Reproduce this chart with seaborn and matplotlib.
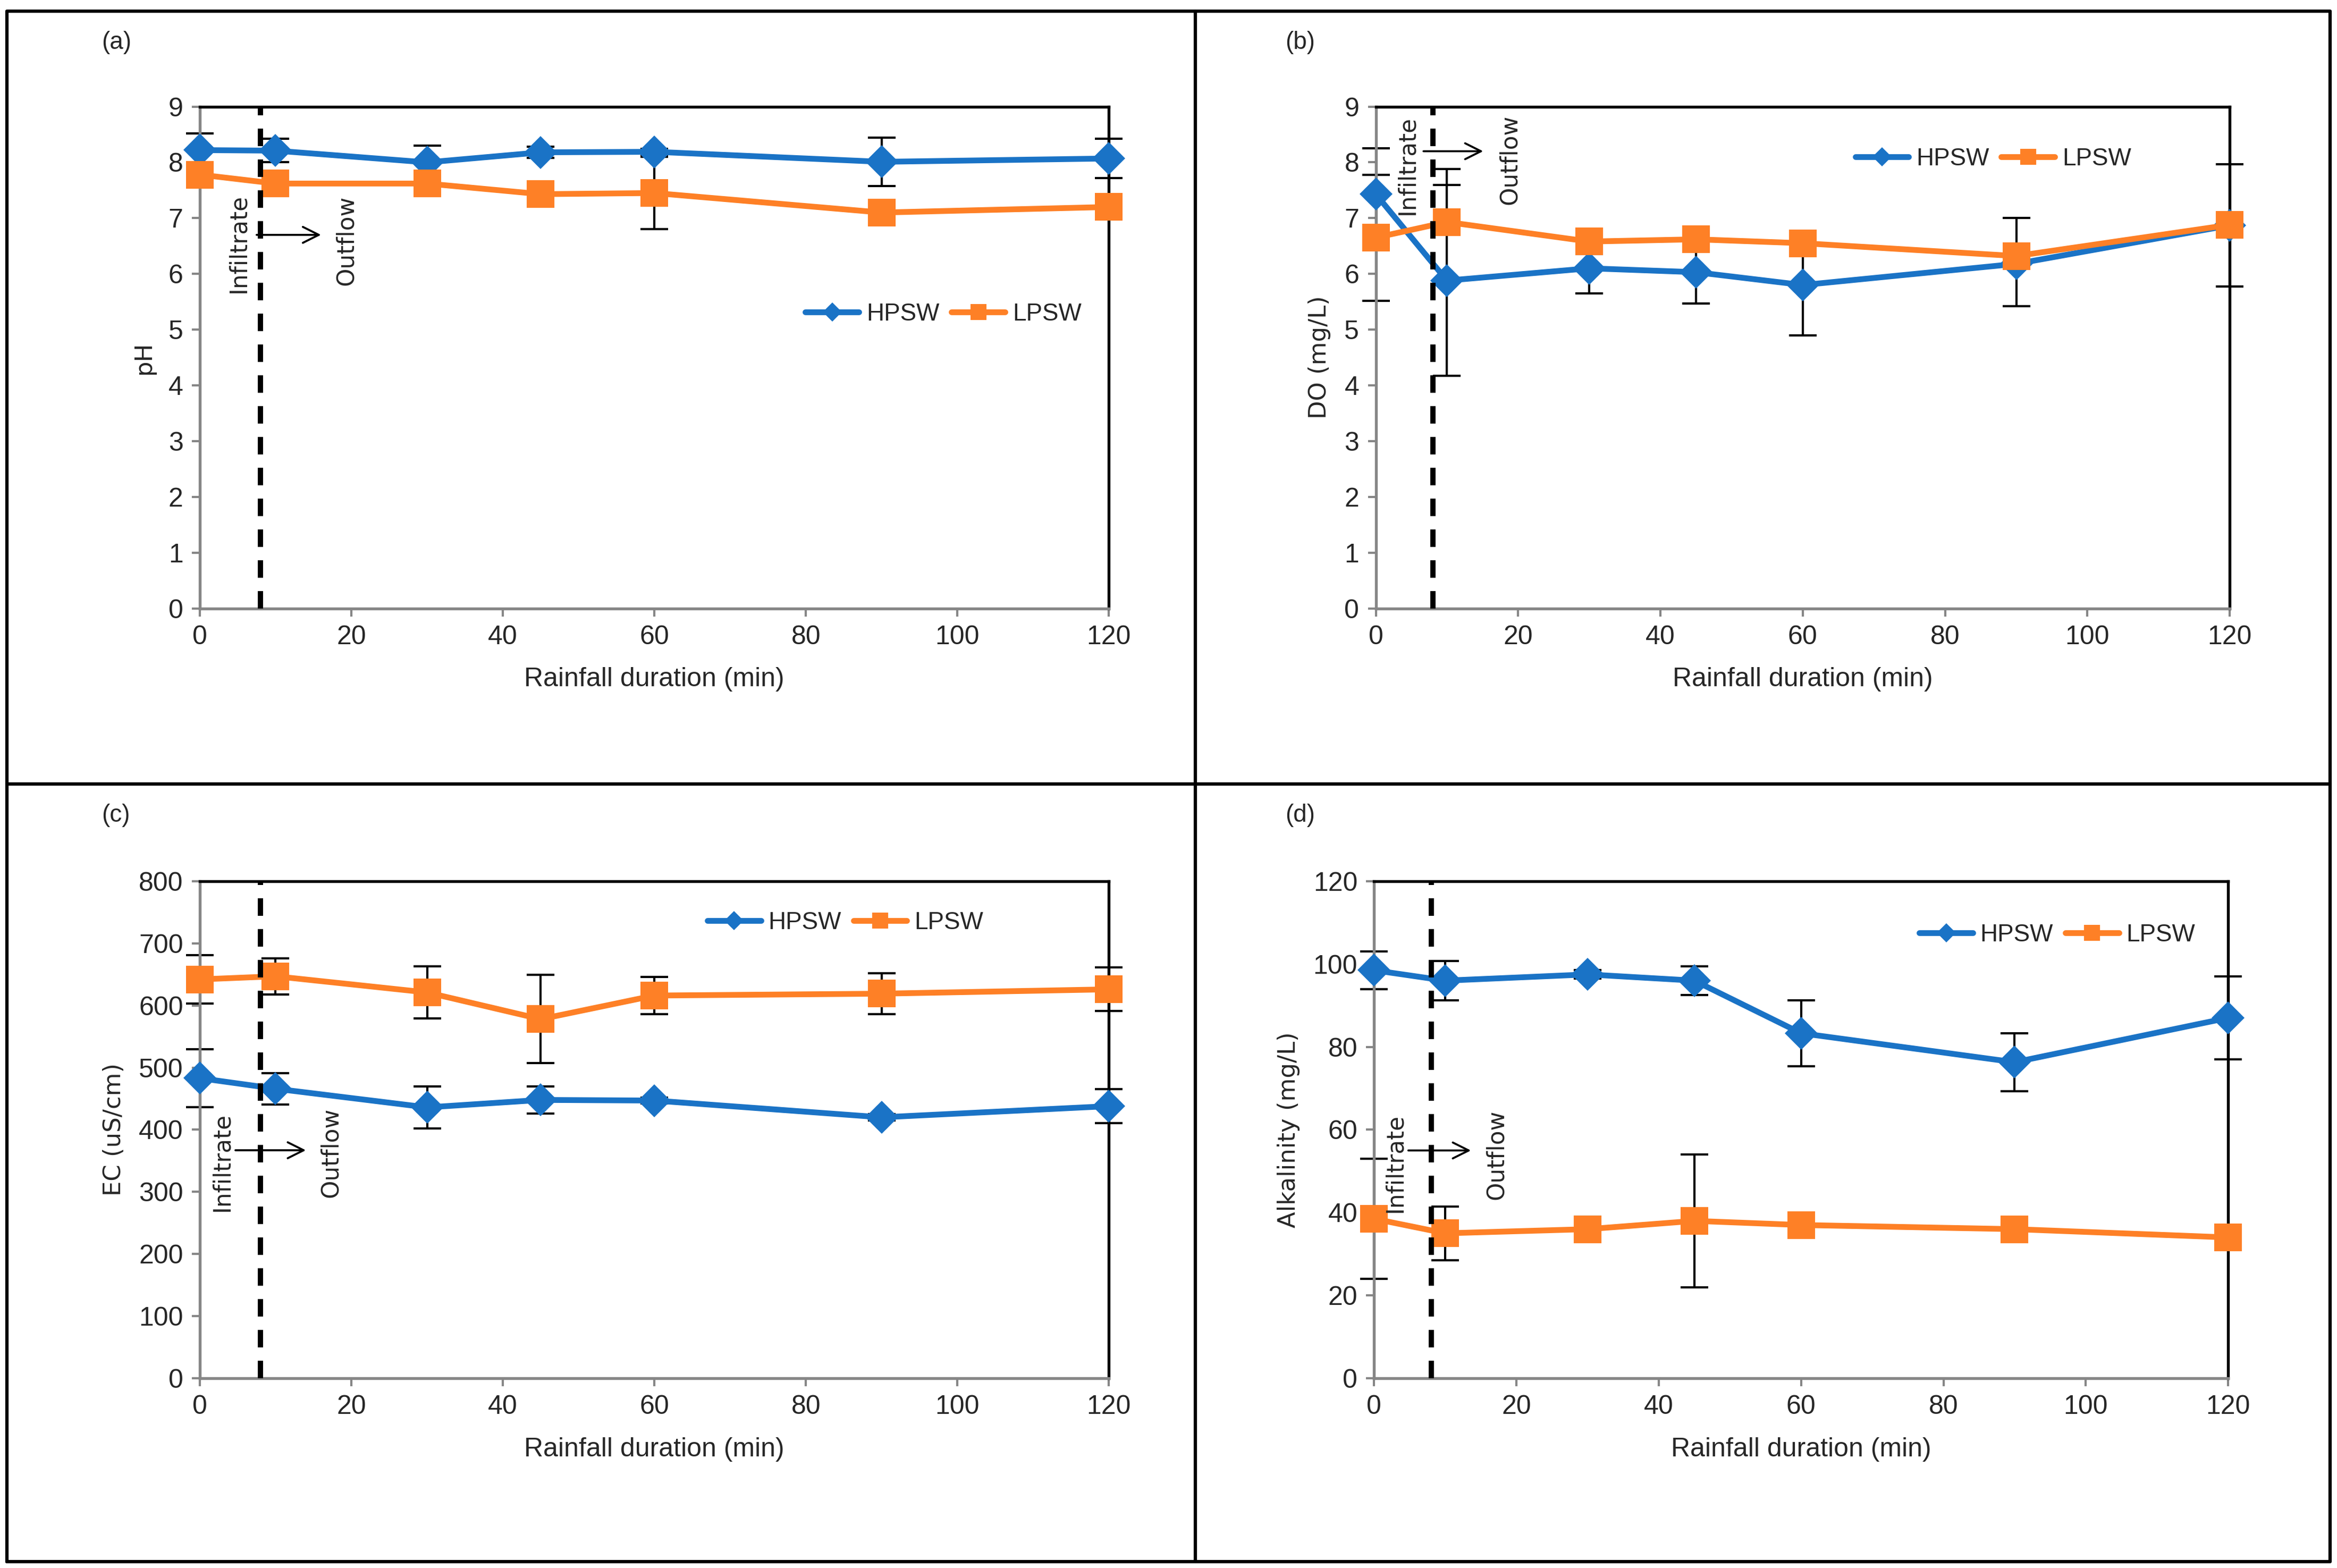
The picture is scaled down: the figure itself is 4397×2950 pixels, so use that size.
import numpy as np
import pandas as pd
import matplotlib.pyplot as plt
import seaborn as sns
from matplotlib.lines import Line2D

# rainfall duration (min)
time_min = [0, 10, 30, 45, 60, 90, 120]
series_names = ["HPSW", "LPSW"]

# (a) pH  (error = [lower, upper])
ph_hpsw = [8.22, 8.21, 8.00, 8.18, 8.19, 8.01, 8.07]
ph_hpsw_err = [[0.30, 0.21, 0.30, 0.10, 0.05, 0.43, 0.35],
               [0.30, 0.21, 0.30, 0.10, 0.05, 0.43, 0.35]]
ph_lpsw = [7.78, 7.62, 7.62, 7.43, 7.45, 7.10, 7.20]
ph_lpsw_err = [[0.10, 0.05, 0.05, 0.05, 0.65, 0.05, 0.05],
               [0.10, 0.05, 0.05, 0.05, 0.65, 0.05, 0.05]]

# (b) DO
do_hpsw = [7.43, 5.88, 6.10, 6.03, 5.80, 6.18, 6.87]
do_hpsw_err = [[0.82, 1.71, 0.45, 0.56, 0.90, 0.76, 1.10],
               [0.82, 1.71, 0.45, 0.56, 0.90, 0.10, 1.10]]
do_lpsw = [6.65, 6.93, 6.58, 6.62, 6.55, 6.32, 6.88]
do_lpsw_err = [[1.13, 0.10, 0.22, 0.10, 0.10, 0.10, 0.10],
               [1.13, 0.95, 0.22, 0.10, 0.10, 0.68, 0.10]]

# (c) EC
ec_hpsw = [483, 466, 436, 448, 447, 420, 438]
ec_hpsw_err = [[47, 25, 34, 22, 5, 5, 27], [47, 25, 34, 22, 5, 5, 27]]
ec_lpsw = [642, 647, 621, 578, 616, 619, 626]
ec_lpsw_err = [[39, 29, 42, 71, 30, 33, 35], [39, 29, 42, 71, 30, 33, 35]]

# (d) Alkalinity
alk_hpsw = [98.5, 96.0, 97.5, 96.0, 83.3, 76.3, 87.0]
alk_hpsw_err = [[4.5, 4.7, 1.0, 3.5, 8.0, 7.0, 10.0], [4.5, 4.7, 1.0, 3.5, 8.0, 7.0, 10.0]]
alk_lpsw = [38.5, 35.0, 36.0, 38.0, 37.0, 36.0, 34.0]
alk_lpsw_err = [[14.5, 6.5, 3.0, 16.0, 1.0, 1.0, 1.0], [14.5, 6.5, 3.0, 16.0, 1.0, 1.0, 1.0]]

colors = {"HPSW": "#1a73c6", "LPSW": "#fe8026"}
markers = {"HPSW": "D", "LPSW": "s"}

sns.set_style("white")
plt.rcParams["font.family"] = ["Liberation Sans", "DejaVu Sans"]

fig = plt.figure(figsize=(4397 / 300, 2950 / 300), dpi=300)

panels = [
    dict(tag="(a)", ylabel="pH", h=ph_hpsw, he=ph_hpsw_err, l=ph_lpsw, le=ph_lpsw_err,
         ylim=(0, 9), ystep=1, rect=[0.0855, 0.612, 0.389, 0.320],
         leg=(0.818, 0.586), inf=(5.1, 6.55), arr=(7.5, 16, 6.7), out=(19.3, 6.6)),
    dict(tag="(b)", ylabel="DO (mg/L)", h=do_hpsw, he=do_hpsw_err, l=do_lpsw, le=do_lpsw_err,
         ylim=(0, 9), ystep=1, rect=[0.5887, 0.612, 0.3654, 0.320],
         leg=(0.723, 0.896), inf=(4.4, 7.95), arr=(6.7, 15.1, 8.2), out=(18.8, 8.05)),
    dict(tag="(c)", ylabel="EC (uS/cm)", h=ec_hpsw, he=ec_hpsw_err, l=ec_lpsw, le=ec_lpsw_err,
         ylim=(0, 800), ystep=100, rect=[0.0855, 0.121, 0.389, 0.317],
         leg=(0.71, 0.916), inf=(2.9, 348), arr=(4.7, 14, 367), out=(17.3, 363)),
    dict(tag="(d)", ylabel="Alkalinity (mg/L)", h=alk_hpsw, he=alk_hpsw_err, l=alk_lpsw, le=alk_lpsw_err,
         ylim=(0, 120), ystep=20, rect=[0.588, 0.121, 0.3654, 0.317],
         leg=(0.80, 0.892), inf=(2.9, 52), arr=(4.8, 13.6, 55), out=(17.2, 54)),
]

tag_pos = {"(a)": (0.0434, 0.973), "(b)": (0.550, 0.973),
           "(c)": (0.0434, 0.480), "(d)": (0.550, 0.480)}

for p in panels:
    ax = fig.add_axes(p["rect"])
    df = pd.DataFrame({
        "time": time_min * 2,
        "value": p["h"] + p["l"],
        "series": ["HPSW"] * len(time_min) + ["LPSW"] * len(time_min),
    })
    # error bars behind the lines
    for name, vals, errs in [("HPSW", p["h"], p["he"]), ("LPSW", p["l"], p["le"])]:
        eb = ax.errorbar(time_min, vals, yerr=np.array(errs), fmt="none", ecolor="black",
                         elinewidth=1.0, capsize=5.5, capthick=1.0, zorder=2)
        for art in eb.get_children():
            art.set_clip_on(False)
    sns.lineplot(data=df, x="time", y="value", hue="series", style="series",
                 palette=colors, markers=markers, dashes=False, linewidth=2.6,
                 markeredgewidth=0, ax=ax, zorder=3, legend=False)
    for ln in ax.lines:
        ln.set_clip_on(False)
        if ln.get_marker() == "D":
            ln.set_markersize(10.5)
        else:
            ln.set_markersize(12.5)

    ax.set_xlim(0, 120)
    ax.set_ylim(*p["ylim"])
    ax.set_xticks(np.arange(0, 121, 20))
    ax.set_yticks(np.arange(p["ylim"][0], p["ylim"][1] + p["ystep"] / 2, p["ystep"]))
    ax.tick_params(axis="both", direction="out", length=3.5, width=1.0, color="#868686",
                   labelsize=12, pad=4, left=True, bottom=True)
    for side in ["top", "right"]:
        ax.spines[side].set_color("black")
        ax.spines[side].set_linewidth(1.3)
    for side in ["left", "bottom"]:
        ax.spines[side].set_color("#868686")
        ax.spines[side].set_linewidth(1.3)
    ax.set_xlabel("Rainfall duration (min)", fontsize=12, labelpad=8)
    ax.set_ylabel(p["ylabel"], fontsize=10.8, family="DejaVu Sans", labelpad=6)

    # infiltrate / outflow divider
    ax.axvline(8, color="black", lw=2.4, linestyle=(0, (3.3, 2.5)), zorder=4)
    ax.text(p["inf"][0], p["inf"][1], "Infiltrate", rotation=90, ha="center", va="center",
            fontsize=10.5, family="DejaVu Sans")
    ax.text(p["out"][0], p["out"][1], "Outflow", rotation=90, ha="center", va="center",
            fontsize=10.5, family="DejaVu Sans")
    ax.annotate("", xy=(p["arr"][1], p["arr"][2]), xytext=(p["arr"][0], p["arr"][2]),
                arrowprops=dict(arrowstyle="->", color="black", lw=0.9,
                                mutation_scale=18, shrinkA=0, shrinkB=0))

    handles = [Line2D([], [], color=colors[n], marker=markers[n], lw=2.6,
                      markersize=6 if n == "HPSW" else 7, markeredgewidth=0)
               for n in series_names]
    ax.legend(handles, series_names, loc="center", bbox_to_anchor=p["leg"], ncol=2,
              frameon=False, fontsize=11, handlelength=2.2, handletextpad=0.3,
              columnspacing=0.5)

    fig.text(tag_pos[p["tag"]][0], tag_pos[p["tag"]][1], p["tag"], fontsize=11,
             ha="left", va="center")

# outer frame and quadrant dividers
frame_kw = dict(color="black", lw=1.5, transform=fig.transFigure)
fig.add_artist(Line2D([0.003, 0.997, 0.997, 0.003, 0.003],
                      [0.004, 0.004, 0.993, 0.993, 0.004], **frame_kw))
fig.add_artist(Line2D([0.5115, 0.5115], [0.004, 0.993], **frame_kw))
fig.add_artist(Line2D([0.003, 0.997], [0.5, 0.5], **frame_kw))

fig.savefig("out.png", dpi=300)
